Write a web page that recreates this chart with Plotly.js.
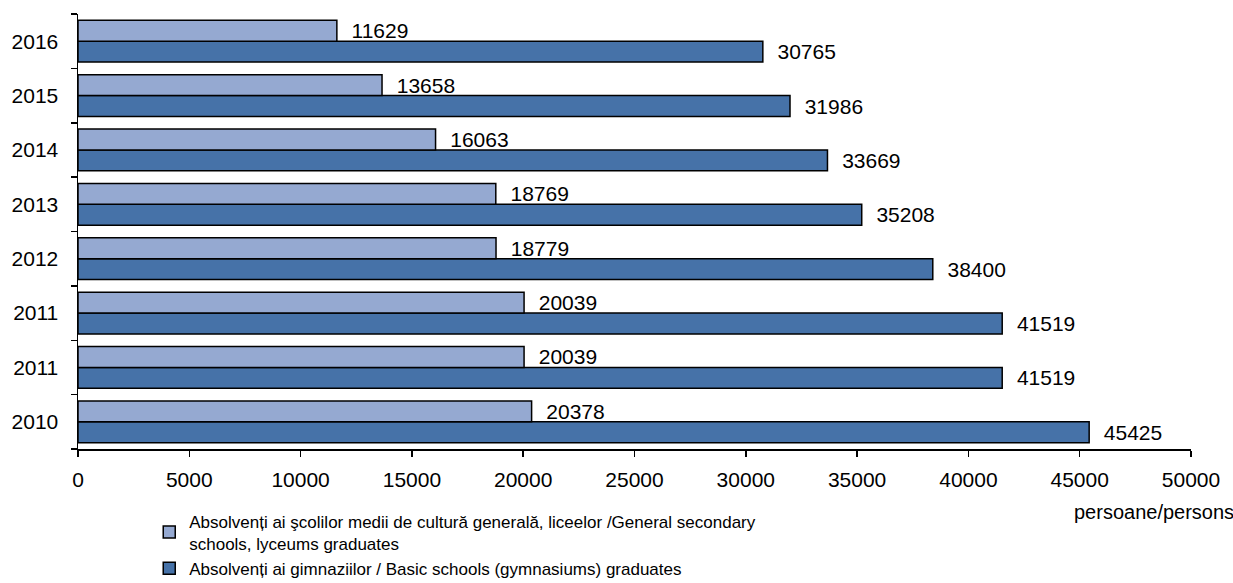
<!DOCTYPE html>
<html>
<head>
<meta charset="utf-8">
<script src="https://cdn.plot.ly/plotly-3.0.1.min.js"></script>
<style>html,body{margin:0;padding:0;background:#fff;}#chart{width:1233px;height:583px;}</style>
</head>
<body>
<div id="chart"></div>
<script>
const years = ['2010', '2011', '2011', '2012', '2013', '2014', '2015', '2016'];
const secondaryGraduates = [20378, 20039, 20039, 18779, 18769, 16063, 13658, 11629];
const basicGraduates = [45425, 41519, 41519, 38400, 35208, 33669, 31986, 30765];
const seriesNames = [
  'Absolvenți ai şcolilor medii de cultură generală, liceelor /General secondary<br>schools, lyceums graduates',
  'Absolvenți ai gimnaziilor / Basic schools (gymnasiums) graduates'
];
const unitLabel = 'persoane/persons';

const FONT = 'Liberation Sans, Arial, sans-serif';
const ids = years.map((_, i) => String(i));

const common = {
  type: 'bar', orientation: 'h', y: ids,
  textposition: 'outside', constraintext: 'none', cliponaxis: false,
  texttemplate: '\u00a0\u00a0%{text}',
  textfont: {family: FONT, size: 21, color: '#000'},
  hoverinfo: 'x'
};

const traces = [
  Object.assign({}, common, {
    name: seriesNames[1], x: basicGraduates, text: basicGraduates.map(String),
    marker: {color: '#4672A8', line: {color: '#000', width: 1.5}}, legendrank: 2
  }),
  Object.assign({}, common, {
    name: seriesNames[0], x: secondaryGraduates, text: secondaryGraduates.map(String),
    marker: {color: '#95A9D1', line: {color: '#000', width: 1.5}}, legendrank: 1
  })
];

const layout = {
  width: 1233, height: 583,
  margin: {l: 77.5, r: 42, t: 14, b: 134, autoexpand: false},
  paper_bgcolor: '#fff', plot_bgcolor: '#fff',
  font: {family: FONT, size: 21, color: '#000'},
  barmode: 'group', bargap: 0.23, bargroupgap: 0,
  xaxis: {
    range: [0, 50000], tick0: 0, dtick: 5000, tickformat: 'd',
    showgrid: false, zeroline: false,
    showline: true, linecolor: '#000', linewidth: 1.5,
    ticks: 'outside', ticklen: 6, tickcolor: '#000', tickwidth: 1.5,
    ticklabelstandoff: 5,
    tickfont: {family: FONT, size: 21, color: '#000'}
  },
  yaxis: {
    type: 'category', categoryorder: 'array', categoryarray: ids,
    tickmode: 'array', tickvals: ids, ticktext: years,
    range: [-0.5, 7.5], tickson: 'boundaries',
    showgrid: false, zeroline: false,
    showline: true, linecolor: '#000', linewidth: 1.5,
    ticks: 'outside', ticklen: 6, tickcolor: '#000', tickwidth: 1.5,
    ticklabelstandoff: 14,
    tickfont: {family: FONT, size: 21, color: '#000'}
  },
  showlegend: true,
  legend: {
    orientation: 'v', x: 0.064, xanchor: 'left', y: -0.125, yanchor: 'top',
    font: {family: FONT, size: 17, color: '#000'},
    bgcolor: 'rgba(0,0,0,0)', borderwidth: 0, tracegroupgap: 0
  },
  annotations: [{
    text: unitLabel, xref: 'paper', yref: 'paper', x: 1.04, y: -0.115,
    xanchor: 'right', yanchor: 'top', showarrow: false,
    font: {family: FONT, size: 20, color: '#000'}
  }]
};

Plotly.newPlot('chart', traces, layout, {displayModeBar: false, staticPlot: true});
</script>
</body>
</html>
